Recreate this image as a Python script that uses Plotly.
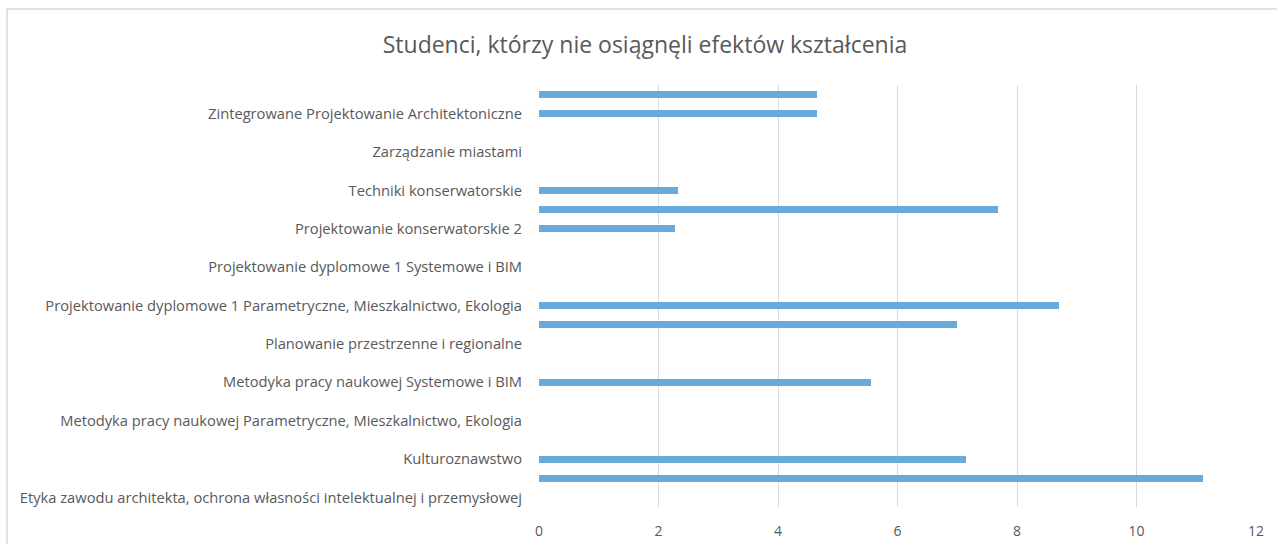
import plotly.graph_objects as go

# categories from bottom to top; only every other one has a visible label
labels = [
    "Etyka zawodu architekta, ochrona własności intelektualnej i przemysłowej",
    "Kulturoznawstwo",
    "Metodyka pracy naukowej Parametryczne, Mieszkalnictwo, Ekologia",
    "Metodyka pracy naukowej Systemowe i BIM",
    "Planowanie przestrzenne i regionalne",
    "Projektowanie dyplomowe 1 Parametryczne, Mieszkalnictwo, Ekologia",
    "Projektowanie dyplomowe 1 Systemowe i BIM",
    "Projektowanie konserwatorskie 2",
    "Techniki konserwatorskie",
    "Zarządzanie miastami",
    "Zintegrowane Projektowanie Architektoniczne",
]
values = [0, 11.11, 7.14, 0, 0, 0, 5.56, 0, 0, 7.00, 8.70, 0,
          0, 0, 2.27, 7.69, 2.33, 0, 0, 0, 4.65, 4.65]

title = "Studenci, którzy nie osiągnęli efektów kształcenia"
x_ticks = [0, 2, 4, 6, 8, 10, 12]

W, H = 1277, 544
L, R, T, B = 539, 21, 85, 37
pw, ph = W - L - R, H - T - B

positions = list(range(len(values)))
label_pos = positions[::2]

fig = go.Figure()
fig.add_trace(go.Bar(
    x=values,
    y=positions,
    orientation="h",
    width=0.36,
    marker=dict(color="#6aaadb", line=dict(width=0)),
    showlegend=False,
))

fig.update_layout(
    width=W,
    height=H,
    paper_bgcolor="white",
    plot_bgcolor="white",
    margin=dict(l=L, r=R, t=T, b=B, autoexpand=False),
    font=dict(family="Open Sans, sans-serif", color="#595959", size=14),
    title=dict(
        text=title,
        x=645 / W,
        xanchor="center",
        y=1 - 45 / H,
        yanchor="middle",
        font=dict(size=23, color="#595959", family="Open Sans, sans-serif"),
    ),
    bargap=0,
)

fig.update_xaxes(
    range=[0, 12],
    tickvals=x_ticks,
    showgrid=True,
    gridcolor="#d9d9d9",
    gridwidth=1,
    zeroline=False,
    showline=False,
    ticks="",
    automargin=False,
    ticklabelstandoff=14,
    tickfont=dict(size=14, color="#595959"),
)
fig.update_yaxes(
    range=[-0.5, len(values) - 0.5],
    tickvals=label_pos,
    ticktext=labels,
    showgrid=False,
    zeroline=False,
    showline=False,
    ticks="",
    automargin=False,
    ticklabelstandoff=16,
    tickfont=dict(size=14.7, color="#595959"),
)

# light frame around the chart area
fig.add_shape(
    type="rect",
    xref="paper", yref="paper",
    x0=(7 - L) / pw, x1=(W + 5 - L) / pw,
    y0=-(B + 10) / ph, y1=(T + ph - 9) / ph,
    line=dict(color="#d9d9d9", width=1.5),
    fillcolor="rgba(0,0,0,0)",
    layer="below",
)

fig.write_html(
    "out.html",
    config={"displayModeBar": False},
    post_script="document.body.style.margin='0';",
)
